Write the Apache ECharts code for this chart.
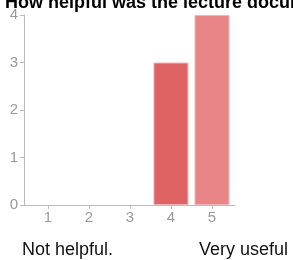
<!DOCTYPE html>
<html>
<head>
<meta charset="utf-8">
<script src="https://cdn.jsdelivr.net/npm/echarts@6/dist/echarts.min.js"></script>
<style>
  html, body { margin: 0; padding: 0; background: #fff; }
  #chart { width: 293px; height: 260px; }
</style>
</head>
<body>
<div id="chart"></div>
<script>
// ratings 1..5 and how many answered each
const ratings = [1, 2, 3, 4, 5];
const counts = [0, 0, 0, 3, 4];
const barColors = ['#e06666', '#e06666', '#e06666', '#df6264', '#e88587'];
const yTicks = [0, 1, 2, 3, 4];
const titleText = 'How helpful was the lecture documentation?';
const lowLabel = 'Not helpful.';
const highLabel = 'Very useful';

const chart = echarts.init(document.getElementById('chart'));

const barData = ratings.map((r, i) => ({
    value: [r, counts[i]],
    itemStyle: { color: barColors[i], borderColor: '#f3b4b4', borderWidth: 1 }
})).filter(d => d.value[1] > 0);

const font = 'Liberation Sans, Arial, sans-serif';

const option = {
    animation: false,
    textStyle: { fontFamily: font },
    title: {
        text: titleText,
        left: 0,
        top: -11,
        textStyle: { fontSize: 18, fontWeight: 'bold', color: '#000' }
    },
    grid: { left: 24, right: 58, top: 15, bottom: 55 },
    xAxis: {
        type: 'value',
        min: 0.42,
        max: 5.56,
        splitLine: { show: false },
        axisLine: { show: true, lineStyle: { color: '#bbb' } },
        axisTick: { show: true, length: 4, lineStyle: { color: '#bbb' }, customValues: ratings },
        axisLabel: { color: '#999', fontSize: 15, margin: 5, customValues: ratings }
    },
    yAxis: {
        type: 'value',
        min: 0,
        max: 4,
        splitLine: { show: false },
        axisLine: { show: true, lineStyle: { color: '#bbb' } },
        axisTick: { show: true, length: 4, lineStyle: { color: '#bbb' }, customValues: yTicks },
        axisLabel: { color: '#999', fontSize: 15, margin: 6, customValues: yTicks }
    },
    series: [{
        type: 'bar',
        barWidth: 35,
        data: barData
    }],
    graphic: [
        { type: 'text', left: 22, top: 241, style: { text: lowLabel, fontSize: 18, fill: '#111', fontFamily: font } },
        { type: 'text', left: 199, top: 241, style: { text: highLabel, fontSize: 18, fill: '#111', fontFamily: font } }
    ]
};
chart.setOption(option);
</script>
</body>
</html>
